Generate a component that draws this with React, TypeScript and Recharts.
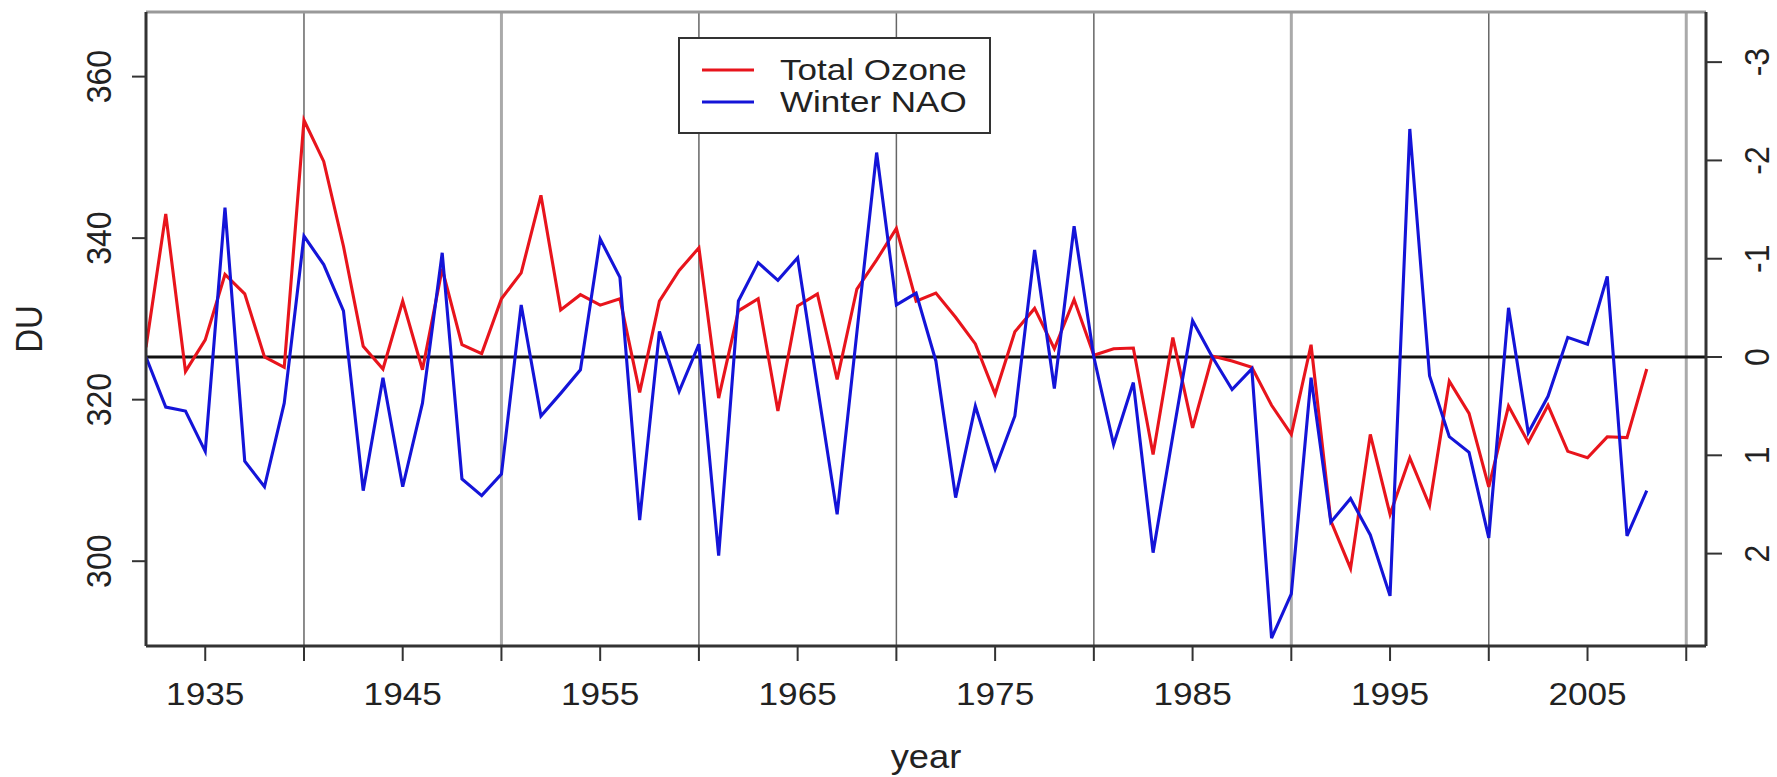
import { LineChart, Line, XAxis, YAxis, ReferenceLine, Legend } from 'recharts';

// annual values, 1932-2008
const years = [
  1932, 1933, 1934, 1935, 1936, 1937, 1938, 1939, 1940, 1941, 1942, 1943, 1944, 1945, 1946, 1947,
  1948, 1949, 1950, 1951, 1952, 1953, 1954, 1955, 1956, 1957, 1958, 1959, 1960, 1961, 1962, 1963,
  1964, 1965, 1966, 1967, 1968, 1969, 1970, 1971, 1972, 1973, 1974, 1975, 1976, 1977, 1978, 1979,
  1980, 1981, 1982, 1983, 1984, 1985, 1986, 1987, 1988, 1989, 1990, 1991, 1992, 1993, 1994, 1995,
  1996, 1997, 1998, 1999, 2000, 2001, 2002, 2003, 2004, 2005, 2006, 2007, 2008,
];
const ozone = [
  326.5, 343.0, 323.5, 327.4, 335.5, 333.1, 325.3, 324.0, 354.6, 349.5, 339.0, 326.6, 323.8, 332.2, 323.7, 336.2,
  326.8, 325.7, 332.5, 335.7, 345.3, 331.1, 333.0, 331.7, 332.5, 320.9, 332.2, 336.0, 338.8, 320.2, 331.0, 332.5,
  318.6, 331.6, 333.1, 322.5, 333.7, 337.3, 341.2, 332.2, 333.2, 330.2, 326.9, 320.7, 328.4, 331.3, 326.3, 332.4,
  325.5, 326.3, 326.4, 313.2, 327.7, 316.5, 325.4, 324.8, 324.0, 319.3, 315.7, 326.8, 305.0, 299.1, 315.7, 305.8,
  312.8, 306.9, 322.3, 318.3, 309.2, 319.2, 314.7, 319.3, 313.6, 312.8, 315.4, 315.3, 323.8,
];
const nao = [
  0.0, 0.51, 0.55, 0.96, -1.52, 1.06, 1.32, 0.47, -1.23, -0.94, -0.47, 1.36, 0.21, 1.32, 0.47, -1.06,
  1.24, 1.41, 1.19, -0.53, 0.6, 0.37, 0.13, -1.2, -0.81, 1.66, -0.26, 0.35, -0.13, 2.02, -0.57, -0.96,
  -0.78, -1.01, 0.3, 1.6, -0.25, -2.08, -0.53, -0.65, 0.04, 1.43, 0.5, 1.14, 0.6, -1.09, 0.32, -1.33,
  0.0, 0.89, 0.26, 1.99, 0.8, -0.37, 0.0, 0.33, 0.12, 2.86, 2.41, 0.21, 1.68, 1.44, 1.81, 2.43,
  -2.32, 0.19, 0.81, 0.97, 1.84, -0.5, 0.77, 0.4, -0.2, -0.13, -0.82, 1.82, 1.36,
];

const yearTicks = [1935, 1940, 1945, 1950, 1955, 1960, 1965, 1970, 1975, 1980, 1985, 1990, 1995, 2000, 2005, 2010];
const labelledYears = [1935, 1945, 1955, 1965, 1975, 1985, 1995, 2005];
const decades = [1940, 1950, 1960, 1970, 1980, 1990, 2000, 2010];
const paleDecades = [1950, 1990, 2010];
const duTicks = [300, 320, 340, 360];
const naoTicks = [-3, -2, -1, 0, 1, 2];

const data = years.map((year, i) => ({ year, ozone: ozone[i], nao: nao[i] }));

const W = 1777;
const H = 777;
const PLOT = { left: 146, right: 1706, top: 12, bottom: 646 };
const Y_AXIS_W = 60;
const X_AXIS_H = 120;
const FONT = '"Liberation Sans", Arial, Helvetica, sans-serif';
const SX = 1.1; // the picture is stretched sideways a little, so is its lettering
const INK = '#222';
const FRAME = '#333';

function StretchText({ x, y, angle = 0, size = 32, children }: any) {
  return (
    <text
      transform={`translate(${x},${y}) scale(${SX},1) rotate(${angle})`}
      textAnchor="middle"
      dominantBaseline="central"
      fontSize={size}
      fontFamily={FONT}
      fill={INK}
    >
      {children}
    </text>
  );
}

const xTick = (p: any) => {
  const v = p.payload.value;
  if (!labelledYears.includes(v)) return <g />;
  return <StretchText x={p.x} y={PLOT.bottom + 48}>{v}</StretchText>;
};

const leftTick = (p: any) => (
  <StretchText x={PLOT.left - 47} y={p.y} angle={-90}>{p.payload.value}</StretchText>
);

const rightTick = (p: any) => (
  <StretchText x={PLOT.right + 51} y={p.y} angle={-90}>{p.payload.value}</StretchText>
);

function LegendBox({ payload }: any) {
  const items = payload || [];
  return (
    <div
      style={{
        width: 313,
        height: 97,
        boxSizing: 'border-box',
        border: `2px solid ${FRAME}`,
        background: '#fff',
        position: 'relative',
      }}
    >
      {items.map((item: any, i: number) => (
        <div key={item.value} style={{ position: 'absolute', left: 0, top: 15 + i * 32, height: 32, width: '100%' }}>
          <svg width={80} height={32} style={{ position: 'absolute', left: 0, top: 0 }}>
            <line x1={22} x2={74} y1={16} y2={16} stroke={item.color} strokeWidth={3} />
          </svg>
          <span
            style={{
              position: 'absolute',
              left: 100,
              top: 1,
              lineHeight: '30px',
              fontSize: 28,
              fontFamily: FONT,
              color: INK,
              whiteSpace: 'nowrap',
              transform: 'scale(1.25, 1.08)',
              transformOrigin: 'left center',
            }}
          >
            {item.value}
          </span>
        </div>
      ))}
    </div>
  );
}

export default function App() {
  return (
    <div style={{ position: 'absolute', left: 0, top: 0, width: W, height: H, background: '#fff' }}>
      <LineChart
        width={W}
        height={H}
        data={data}
        margin={{
          top: PLOT.top,
          left: PLOT.left - Y_AXIS_W,
          right: W - PLOT.right - Y_AXIS_W,
          bottom: H - PLOT.bottom - X_AXIS_H,
        }}
      >
        <XAxis
          dataKey="year"
          type="number"
          domain={[1932, 2011]}
          allowDataOverflow
          ticks={yearTicks}
          interval={0}
          height={X_AXIS_H}
          tickSize={15}
          tick={xTick}
          axisLine={{ stroke: FRAME, strokeWidth: 3 }}
          tickLine={{ stroke: FRAME, strokeWidth: 2 }}
          label={() => (
            <StretchText x={(PLOT.left + PLOT.right) / 2} y={PLOT.bottom + 111} size={33}>year</StretchText>
          )}
        />
        <YAxis
          yAxisId="du"
          domain={[289.5, 368]}
          allowDataOverflow
          ticks={duTicks}
          interval={0}
          width={Y_AXIS_W}
          tickSize={14}
          tick={leftTick}
          axisLine={{ stroke: FRAME, strokeWidth: 3 }}
          tickLine={{ stroke: FRAME, strokeWidth: 2 }}
          label={() => (
            <StretchText x={29} y={(PLOT.top + PLOT.bottom) / 2} angle={-90} size={33}>DU</StretchText>
          )}
        />
        <YAxis
          yAxisId="nao"
          orientation="right"
          reversed
          domain={[-3.51, 2.94]}
          allowDataOverflow
          ticks={naoTicks}
          interval={0}
          width={Y_AXIS_W}
          tickSize={16}
          tick={rightTick}
          axisLine={{ stroke: FRAME, strokeWidth: 3 }}
          tickLine={{ stroke: FRAME, strokeWidth: 2 }}
        />

        {decades.map((d) => (
          <ReferenceLine
            key={d}
            yAxisId="du"
            x={d}
            stroke={paleDecades.includes(d) ? '#aaa' : '#666'}
            strokeWidth={paleDecades.includes(d) ? 3 : 1.5}
          />
        ))}
        <ReferenceLine yAxisId="du" y={368} stroke="#999" strokeWidth={3} />
        <ReferenceLine yAxisId="nao" y={0} stroke="#111" strokeWidth={3} />

        <Line
          yAxisId="du"
          dataKey="ozone"
          name="Total Ozone"
          stroke="#e8141c"
          strokeWidth={3.1}
          dot={false}
          activeDot={false}
          isAnimationActive={false}
        />
        <Line
          yAxisId="nao"
          dataKey="nao"
          name="Winter NAO"
          stroke="#1414d8"
          strokeWidth={3.1}
          dot={false}
          activeDot={false}
          isAnimationActive={false}
        />

        <Legend
          layout="horizontal"
          verticalAlign="middle"
          align="center"
          content={(props: any) => <LegendBox payload={props.payload} />}
          wrapperStyle={{ left: 678, top: 37, width: 313, height: 97 }}
        />
      </LineChart>
    </div>
  );
}
